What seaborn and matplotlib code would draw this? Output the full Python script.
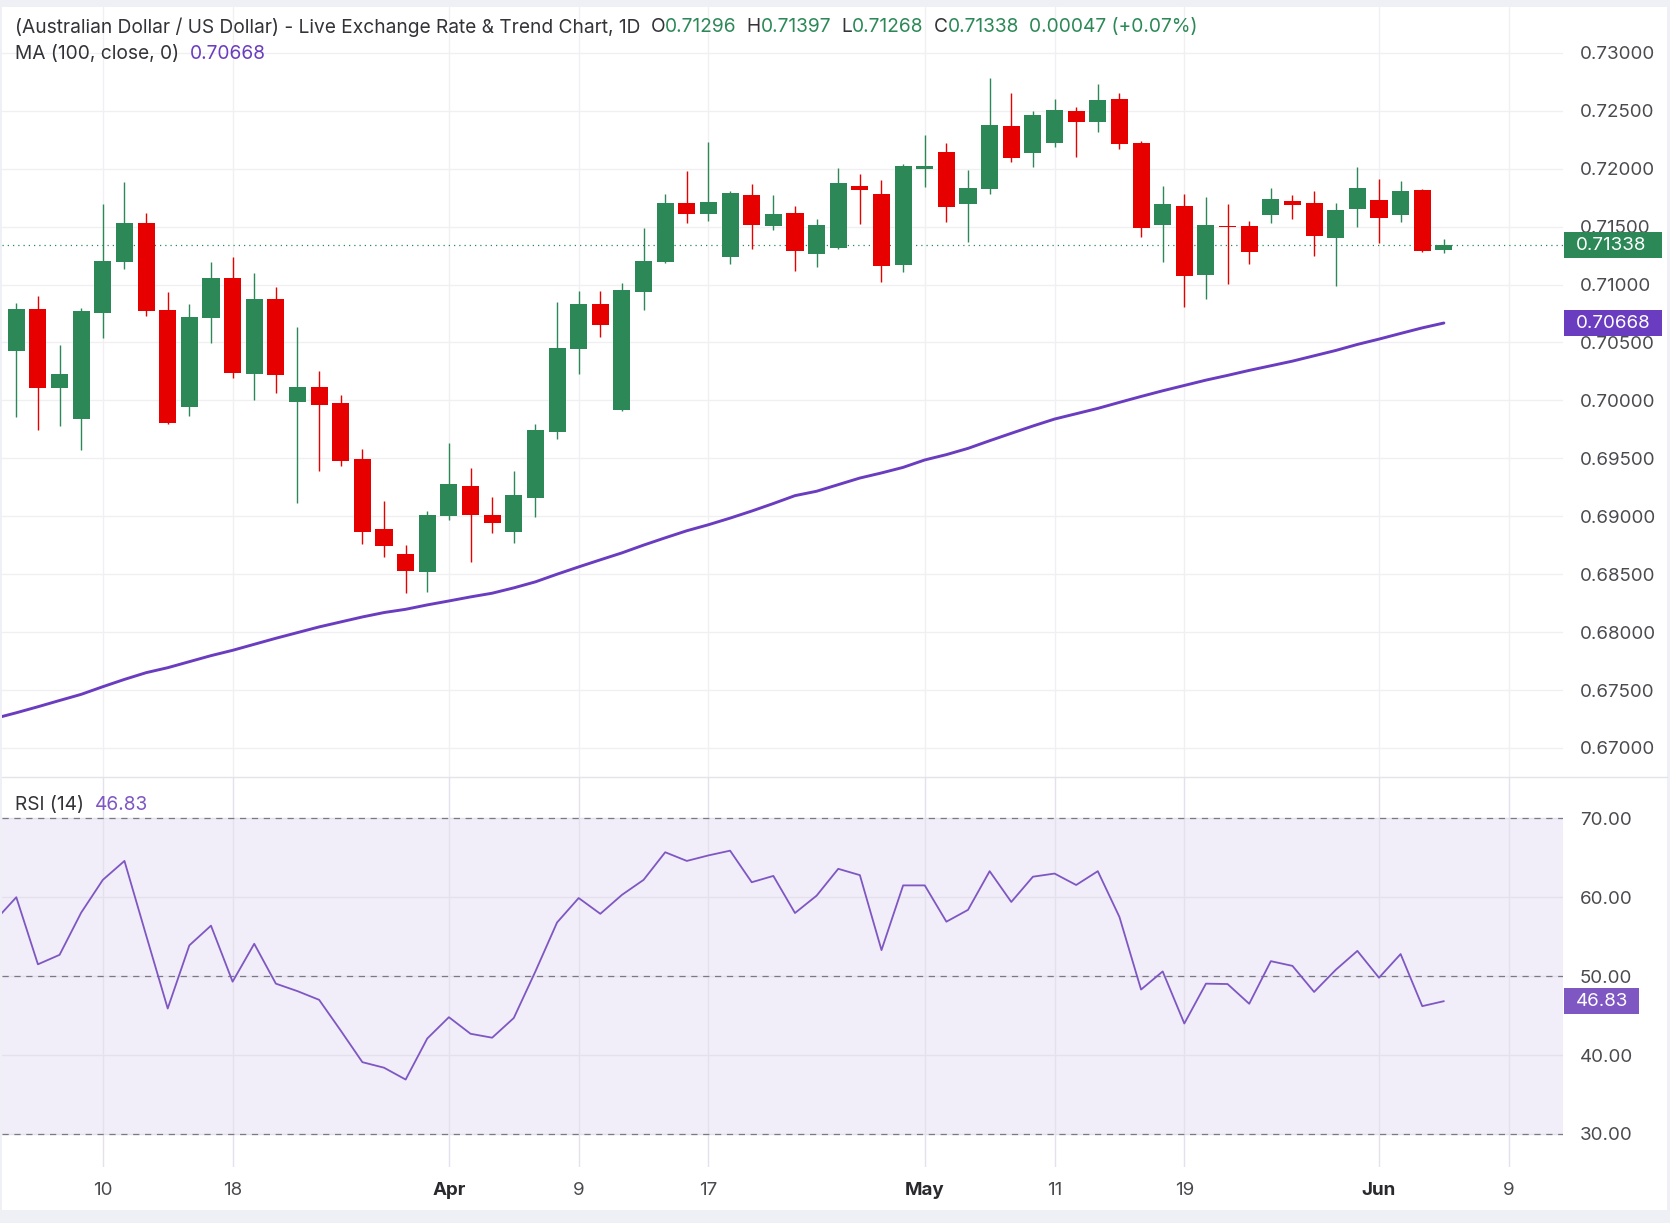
import numpy as np
import pandas as pd
import matplotlib
matplotlib.use("Agg")
import matplotlib.pyplot as plt
import seaborn as sns
from matplotlib.patches import Rectangle
from matplotlib.lines import Line2D

# ---------------- data ----------------
first_session = "2026-03-04"
last_session = "2026-06-04"

opens = [0.70428, 0.70787, 0.70109, 0.69842, 0.70756, 0.71195, 0.71529, 0.70779, 0.69945, 0.70713,
         0.71055, 0.70230, 0.70874, 0.69989, 0.70115, 0.69977, 0.69494, 0.68891, 0.68672, 0.68520,
         0.69003, 0.69259, 0.69009, 0.68865, 0.69158, 0.69727, 0.70443, 0.70836, 0.69917, 0.70934,
         0.71195, 0.71701, 0.71609, 0.71239, 0.71770, 0.71506, 0.71615, 0.71264, 0.71316, 0.71848,
         0.71779, 0.71170, 0.71997, 0.72141, 0.71695, 0.71825, 0.72365, 0.72135, 0.72221, 0.72494,
         0.72402, 0.72598, 0.72218, 0.71514, 0.71675, 0.71083, 0.71506, 0.71503, 0.71601, 0.71718,
         0.71701, 0.71402, 0.71652, 0.71727, 0.71601, 0.71813, 0.71296]
highs = [0.70839, 0.70899, 0.70477, 0.70796, 0.71693, 0.71882, 0.71615, 0.70934, 0.70830, 0.71193,
         0.71236, 0.71098, 0.70977, 0.70632, 0.70253, 0.70046, 0.69580, 0.69132, 0.68750, 0.69043,
         0.69629, 0.69414, 0.69164, 0.69388, 0.69793, 0.70853, 0.70948, 0.70940, 0.71009, 0.71486,
         0.71779, 0.71977, 0.72227, 0.71805, 0.71865, 0.71770, 0.71675, 0.71563, 0.72003, 0.71951,
         0.71899, 0.72037, 0.72287, 0.72218, 0.71986, 0.72779, 0.72649, 0.72494, 0.72598, 0.72529,
         0.72727, 0.72649, 0.72236, 0.71848, 0.71779, 0.71753, 0.71693, 0.71546, 0.71830, 0.71770,
         0.71805, 0.71701, 0.72011, 0.71908, 0.71891, 0.71822, 0.71397]
lows = [0.69859, 0.69747, 0.69782, 0.69575, 0.70540, 0.71132, 0.70730, 0.69800, 0.69868, 0.70497,
        0.70195, 0.70006, 0.70066, 0.69118, 0.69394, 0.69437, 0.68764, 0.68652, 0.68339, 0.68348,
        0.68968, 0.68606, 0.68856, 0.68770, 0.68994, 0.69667, 0.70227, 0.70546, 0.69910, 0.70779,
        0.71190, 0.71529, 0.71546, 0.71178, 0.71307, 0.71471, 0.71118, 0.71152, 0.71310, 0.71523,
        0.71023, 0.71109, 0.71842, 0.71540, 0.71368, 0.71782, 0.72057, 0.72014, 0.72187, 0.72100,
        0.72316, 0.72170, 0.71411, 0.71195, 0.70807, 0.70876, 0.71006, 0.71178, 0.71532, 0.71563,
        0.71247, 0.70989, 0.71497, 0.71359, 0.71540, 0.71282, 0.71268]
closes = [0.70787, 0.70109, 0.70227, 0.70770, 0.71201, 0.71529, 0.70770, 0.69807, 0.70718, 0.71055,
          0.70239, 0.70874, 0.70221, 0.70115, 0.69963, 0.69480, 0.68868, 0.68747, 0.68529, 0.69009,
          0.69276, 0.69011, 0.68943, 0.69181, 0.69741, 0.70448, 0.70836, 0.70655, 0.70957, 0.71207,
          0.71701, 0.71609, 0.71710, 0.71787, 0.71514, 0.71606, 0.71290, 0.71511, 0.71874, 0.71816,
          0.71161, 0.72020, 0.72020, 0.71670, 0.71830, 0.72374, 0.72092, 0.72460, 0.72503, 0.72402,
          0.72589, 0.72213, 0.71489, 0.71693, 0.71075, 0.71511, 0.71497, 0.71282, 0.71736, 0.71687,
          0.71420, 0.71641, 0.71830, 0.71575, 0.71805, 0.71291, 0.71338]

# moving average (100, close) - first value belongs to the session before the first visible candle
ma_sessions_start = "2026-03-03"
ma100 = [0.67255,
         0.67304, 0.67356, 0.67410, 0.67463, 0.67529, 0.67592, 0.67650, 0.67693, 0.67745, 0.67797,
         0.67843, 0.67895, 0.67947, 0.67996, 0.68045, 0.68088, 0.68131, 0.68169, 0.68197, 0.68235,
         0.68269, 0.68304, 0.68336, 0.68382, 0.68434, 0.68500, 0.68563, 0.68624, 0.68684, 0.68751,
         0.68814, 0.68875, 0.68927, 0.68984, 0.69045, 0.69110, 0.69178, 0.69216, 0.69273, 0.69330,
         0.69374, 0.69422, 0.69486, 0.69532, 0.69586, 0.69652, 0.69716, 0.69779, 0.69839, 0.69885,
         0.69931, 0.69983, 0.70034, 0.70083, 0.70129, 0.70175, 0.70216, 0.70259, 0.70299, 0.70339,
         0.70385, 0.70431, 0.70483, 0.70529, 0.70578, 0.70626, 0.70668]
rsi14 = [57.0,
         60.0, 51.5, 52.7, 58.05, 62.2, 64.6, 55.2, 45.9, 53.9, 56.4,
         49.3, 54.1, 49.05, 48.1, 47.0, 43.1, 39.1, 38.4, 36.9, 42.1,
         44.8, 42.7, 42.2, 44.7, 50.6, 56.8, 59.9, 57.9, 60.3, 62.2,
         65.7, 64.6, 65.3, 65.9, 61.9, 62.7, 58.0, 60.2, 63.6, 62.8,
         53.3, 61.5, 61.5, 56.9, 58.4, 63.3, 59.4, 62.6, 63.0, 61.55,
         63.3, 57.5, 48.3, 50.6, 44.0, 49.05, 49.0, 46.5, 51.9, 51.3,
         48.0, 50.8, 53.2, 49.8, 52.8, 46.2, 46.83]

tick_dates = ["2026-03-10", "2026-03-18", "2026-04-01", "2026-04-09", "2026-04-17",
              "2026-05-01", "2026-05-11", "2026-05-19", "2026-06-01", "2026-06-09"]
tick_labels = ["10", "18", "Apr", "9", "17", "May", "11", "19", "Jun", "9"]
month_labels = ["Apr", "May", "Jun"]
price_ticks = [0.670, 0.675, 0.680, 0.685, 0.690, 0.695, 0.700, 0.705, 0.710, 0.715, 0.720, 0.725, 0.730]
rsi_ticks = [30, 40, 50, 60, 70]
rsi_levels = [30, 50, 70]

title = "(Australian Dollar / US Dollar) - Live Exchange Rate & Trend Chart, 1D"
ma_label = "MA (100, close, 0)"
rsi_label = "RSI (14)"

# ---------------- style ----------------
GREEN = "#2C8957"
RED = "#E60000"
MA_COL = "#6A3DC0"
RSI_COL = "#7E57C2"
TXT = "#333338"
AXTXT = "#4A4A4F"
FONT = ["Inter", "Roboto", "DejaVu Sans"]

sns.set_theme(style="white")
plt.rcParams["font.family"] = FONT

W, H = 1670, 1223
fig = plt.figure(figsize=(W / 100, H / 100), dpi=100)
fig.patch.set_facecolor("#EFF0F5")
fig.add_artist(Rectangle((2 / W, (H - 1210) / H), (1667 - 2) / W, (1210 - 7) / H,
                         transform=fig.transFigure, facecolor="white", edgecolor="none", zorder=-10))

PL, PR = 2, 1563
ax_p = fig.add_axes([PL / W, (H - 777) / H, (PR - PL) / W, (777 - 7) / H])
ax_r = fig.add_axes([PL / W, (H - 1167) / H, (PR - PL) / W, (1167 - 777) / H], sharex=ax_p)
for ax in (ax_p, ax_r):
    ax.set_facecolor("none")
    for s in ax.spines.values():
        s.set_visible(False)

# session positions (trading-day index)
all_sessions = pd.bdate_range(ma_sessions_start, "2026-06-12")
origin = all_sessions.get_loc(pd.Timestamp(first_session))
candle_dates = pd.bdate_range(first_session, last_session)
x = all_sessions.get_indexer(candle_dates) - origin
line_dates = pd.bdate_range(ma_sessions_start, last_session)
xl = all_sessions.get_indexer(line_dates) - origin
xticks = all_sessions.get_indexer(pd.to_datetime(tick_dates)) - origin

o = np.array(opens); h = np.array(highs); l = np.array(lows); c = np.array(closes)
up = c >= o
cols = np.where(up, GREEN, RED)

# ---------------- price panel ----------------
ax_p.vlines(x, l, h, colors=cols, linewidth=1.0, zorder=3)
body = np.maximum(np.abs(c - o), 0.00009)
ax_p.bar(x, body, bottom=np.minimum(o, c), width=0.79, color=cols, linewidth=0, zorder=4)

ma_df = pd.DataFrame({"x": xl, "ma": ma100})
sns.lineplot(data=ma_df, x="x", y="ma", ax=ax_p, color=MA_COL, linewidth=2.1, zorder=5)
ax_p.axhline(c[-1], color=GREEN, linewidth=0.9, linestyle=(0, (1, 3.2)), zorder=2)

y_top = 0.73 + (52.8 - 7) / 11583
y_bot = 0.67 - (777 - 748) / 11583
ax_p.set_ylim(y_bot, y_top)
ax_p.set_xlim((PL - 16.3) / 21.63, (PR - 16.3) / 21.63)
ax_p.set_yticks(price_ticks)
ax_p.set_yticklabels([f"{v:.5f}" for v in price_ticks])
ax_p.yaxis.tick_right()
ax_p.tick_params(axis="y", length=0, pad=12, labelsize=13.5, labelcolor=AXTXT)
ax_p.tick_params(axis="x", length=0, labelbottom=False)
ax_p.set_xticks(xticks)
ax_p.grid(True, color="#F0F0F3", linewidth=1.0)
ax_p.set_axisbelow(True)
ax_p.set_xlabel(""); ax_p.set_ylabel("")

# value tags on price scale
px_per_unit = 11583
def tag(ax, yv, text, color, unit, x1):
    hgt = 26 / unit
    ax.add_patch(Rectangle(((1564 - PL) / (PR - PL), yv - hgt / 2), (x1 - 1564) / (PR - PL), hgt,
                           transform=ax.get_yaxis_transform(), facecolor=color, edgecolor="none",
                           clip_on=False, zorder=20))
    ax.text((1576 - PL) / (PR - PL), yv, text, transform=ax.get_yaxis_transform(), ha="left",
            va="center", color="white", fontsize=13.5, zorder=21, clip_on=False)

tag(ax_p, c[-1], f"{c[-1]:.5f}", GREEN, px_per_unit, 1662)
tag(ax_p, ma100[-1], f"{ma100[-1]:.5f}", MA_COL, px_per_unit, 1662)

# ---------------- RSI panel ----------------
r_top = 70 + (818.3 - 777) / 7.89
r_bot = 30 - (1167 - 1134) / 7.89
ax_r.set_ylim(r_bot, r_top)
ax_r.axhspan(30, 70, color="#F1EDF9", zorder=0, linewidth=0)
for lv in rsi_levels:
    ax_r.axhline(lv, color="#7A7A86", linewidth=0.9, linestyle=(0, (5, 4.5)), zorder=2)
rsi_df = pd.DataFrame({"x": xl, "rsi": rsi14})
sns.lineplot(data=rsi_df, x="x", y="rsi", ax=ax_r, color=RSI_COL, linewidth=1.3, zorder=5)
ax_r.set_yticks(rsi_ticks)
ax_r.set_yticklabels([f"{v:.2f}" for v in rsi_ticks])
ax_r.yaxis.tick_right()
ax_r.tick_params(axis="y", length=0, pad=12, labelsize=13.5, labelcolor=AXTXT)
ax_r.set_xticks(xticks)
ax_r.set_xticklabels(tick_labels)
ax_r.tick_params(axis="x", length=0, pad=11, labelsize=13.5, labelcolor=AXTXT)
for t in ax_r.get_xticklabels():
    if t.get_text() in month_labels:
        t.set_fontweight("bold")
        t.set_color("#2A2A2E")
ax_r.grid(True, color="#E4E0EC", linewidth=1.0)
ax_r.set_axisbelow(True)
ax_r.set_xlabel(""); ax_r.set_ylabel("")
ax_r.set_xlim((PL - 16.3) / 21.63, (PR - 16.3) / 21.63)
tag(ax_r, rsi14[-1], f"{rsi14[-1]:.2f}", RSI_COL, 7.89, 1639)

# separator between panels
fig.add_artist(Line2D([2 / W, 1667 / W], [(H - 777) / H] * 2, transform=fig.transFigure,
                      color="#E3E4EA", linewidth=1.0, zorder=10))

# ---------------- legends ----------------
renderer = fig.canvas.get_renderer()
def segments(x0, ypx, segs, size=13.8):
    xx = x0
    for text, color, gap in segs:
        t = fig.text(xx / W, 1 - ypx / H, text, color=color, fontsize=size, ha="left", va="center")
        xx += t.get_window_extent(renderer).width + gap

chg = c[-1] - c[-2]
segments(15, 27, [(title, TXT, 10),
                  ("O", TXT, 0), (f"{o[-1]:.5f}", GREEN, 10),
                  ("H", TXT, 0), (f"{h[-1]:.5f}", GREEN, 10),
                  ("L", TXT, 0), (f"{l[-1]:.5f}", GREEN, 10),
                  ("C", TXT, 0), (f"{c[-1]:.5f}", GREEN, 10),
                  (f"{chg:.5f} ({chg / c[-2] * 100:+.2f}%)", GREEN, 0)])
segments(15, 54, [(ma_label, TXT, 11), (f"{ma100[-1]:.5f}", MA_COL, 0)])
segments(15, 805, [(rsi_label, TXT, 11), (f"{rsi14[-1]:.2f}", RSI_COL, 0)])

fig.savefig("out.png", dpi=100, facecolor=fig.get_facecolor())
